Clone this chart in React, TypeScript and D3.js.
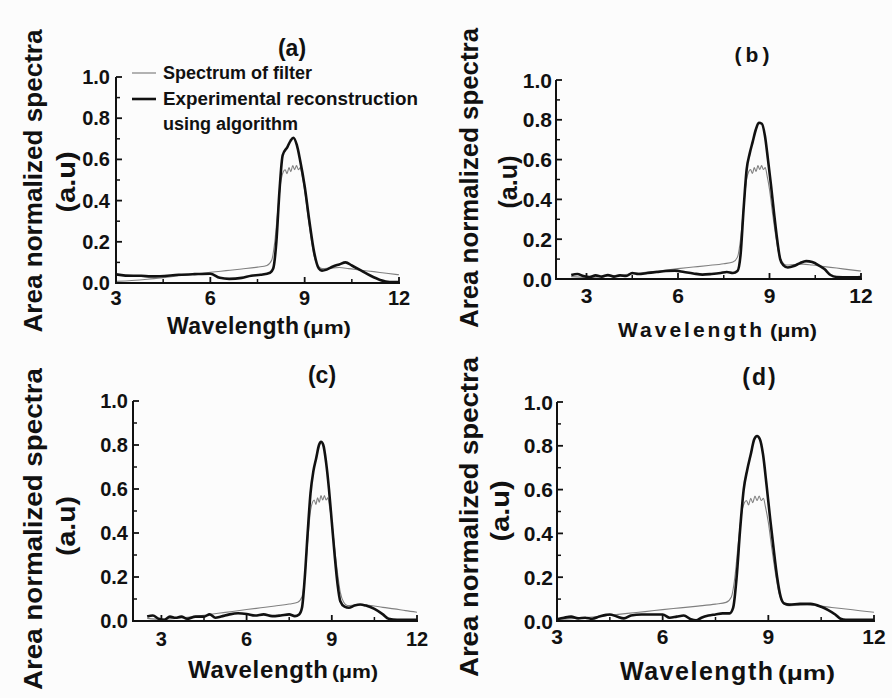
import React from "react";
import * as d3 from "d3";

// ---------- DATA ----------
const X_TICKS = [3, 6, 9, 12];
const X_MINOR = [4.5, 7.5, 10.5];
const Y_TICKS = [0, 0.2, 0.4, 0.6, 0.8, 1.0];
const Y_MINOR = [0.1, 0.3, 0.5, 0.7, 0.9];
const PANEL_LABELS = ["(a)", "(b)", "(c)", "(d)"];
const LEGEND_LABELS = ["Spectrum of filter", "Experimental reconstruction", "using algorithm"];
const Y_TITLE = "Area normalized spectra";
const Y_UNIT = "(a.u)";
const X_TITLE = "Wavelength";
const X_UNIT = "(\u03bcm)";

// Spectrum of filter (shared by all panels)
const FILTER_X = [2.5, 3.0, 3.5, 4.0, 4.5, 5.0, 5.5, 6.0, 6.5, 7.0, 7.5, 7.8, 7.95, 8.05, 8.15, 8.25, 8.32, 8.38, 8.44, 8.5, 8.56, 8.62, 8.68, 8.74, 8.8, 8.86, 8.92, 9.0, 9.1, 9.2, 9.3, 9.42, 9.55, 9.8, 10.1, 10.4, 10.8, 11.2, 11.6, 12.0];
const FILTER_Y = [0.012, 0.008, 0.012, 0.018, 0.026, 0.035, 0.043, 0.052, 0.06, 0.068, 0.077, 0.085, 0.11, 0.2, 0.36, 0.5, 0.54, 0.55, 0.53, 0.56, 0.54, 0.57, 0.55, 0.57, 0.55, 0.56, 0.52, 0.45, 0.33, 0.22, 0.13, 0.085, 0.07, 0.072, 0.075, 0.07, 0.062, 0.055, 0.047, 0.04];

// Experimental reconstructions
const RECON_A_X = [3.0, 3.3, 3.8, 4.1, 4.4, 5.0, 5.5, 6.0, 6.3, 6.6, 7.0, 7.3, 7.6, 7.9, 8.0, 8.1, 8.2, 8.3, 8.45, 8.55, 8.64, 8.75, 8.85, 9.0, 9.15, 9.3, 9.45, 9.55, 9.7, 9.9, 10.1, 10.3, 10.5, 10.8, 11.1, 11.4, 11.7, 12.0];
const RECON_A_Y = [0.042, 0.036, 0.035, 0.032, 0.033, 0.04, 0.043, 0.045, 0.025, 0.02, 0.025, 0.035, 0.04, 0.05, 0.07, 0.2, 0.45, 0.62, 0.66, 0.69, 0.705, 0.67, 0.6, 0.47, 0.3, 0.15, 0.07, 0.06, 0.065, 0.08, 0.09, 0.1, 0.085, 0.06, 0.035, 0.015, 0.005, 0.005];

const RECON_B_X = [2.5, 2.7, 2.9, 3.1, 3.3, 3.5, 3.7, 3.9, 4.1, 4.3, 4.5, 4.7, 5.0, 5.3, 5.6, 5.9, 6.2, 6.5, 6.8, 7.1, 7.4, 7.6, 7.8, 7.95, 8.05, 8.15, 8.25, 8.35, 8.45, 8.55, 8.65, 8.75, 8.85, 8.95, 9.05, 9.15, 9.25, 9.35, 9.45, 9.6, 9.8, 10.0, 10.2, 10.4, 10.6, 10.8, 11.0, 11.2, 11.6, 12.0];
const RECON_B_Y = [0.02, 0.025, 0.015, 0.01, 0.018, 0.012, 0.02, 0.012, 0.018, 0.015, 0.03, 0.025, 0.03, 0.035, 0.04, 0.042, 0.035, 0.028, 0.022, 0.025, 0.03, 0.035, 0.03, 0.04, 0.12, 0.35, 0.55, 0.63, 0.69, 0.75, 0.785, 0.78, 0.72, 0.6, 0.47, 0.33, 0.2, 0.1, 0.07, 0.058, 0.065, 0.08, 0.09, 0.085, 0.07, 0.05, 0.02, 0.01, 0.008, 0.01];

const RECON_C_X = [2.5, 2.7, 2.9, 3.1, 3.3, 3.5, 3.7, 3.9, 4.2, 4.5, 4.7, 4.9, 5.1, 5.4, 5.7, 6.0, 6.3, 6.6, 6.9, 7.2, 7.5, 7.7, 7.85, 7.95, 8.05, 8.15, 8.25, 8.35, 8.45, 8.55, 8.62, 8.7, 8.8, 8.9, 9.0, 9.1, 9.2, 9.3, 9.45, 9.6, 9.8, 10.0, 10.2, 10.5, 10.8, 11.0, 11.3, 12.0];
const RECON_C_Y = [0.02, 0.025, 0.01, 0.005, 0.02, 0.015, 0.02, 0.01, 0.02, 0.02, 0.03, 0.015, 0.02, 0.03, 0.035, 0.032, 0.025, 0.03, 0.022, 0.025, 0.03, 0.022, 0.03, 0.06, 0.2, 0.4, 0.58, 0.68, 0.74, 0.8, 0.815, 0.8, 0.72, 0.6, 0.45, 0.3, 0.17, 0.09, 0.065, 0.06, 0.07, 0.075, 0.07, 0.055, 0.03, 0.01, 0.005, 0.005];

const RECON_D_X = [3.0, 3.2, 3.4, 3.6, 3.8, 4.0, 4.2, 4.4, 4.5, 4.7, 4.9, 5.1, 5.4, 5.7, 6.0, 6.2, 6.4, 6.6, 6.8, 6.95, 7.1, 7.3, 7.5, 7.7, 7.9, 8.0, 8.1, 8.2, 8.3, 8.4, 8.5, 8.6, 8.68, 8.76, 8.85, 8.95, 9.05, 9.15, 9.25, 9.35, 9.45, 9.6, 9.9, 10.2, 10.5, 10.7, 10.9, 11.05, 11.2, 12.0];
const RECON_D_Y = [0.008, 0.015, 0.02, 0.012, 0.015, 0.01, 0.02, 0.028, 0.03, 0.02, 0.012, 0.025, 0.03, 0.03, 0.03, 0.015, 0.02, 0.025, 0.008, 0.003, 0.015, 0.025, 0.03, 0.035, 0.035, 0.06, 0.2, 0.42, 0.6, 0.69, 0.76, 0.83, 0.845, 0.83, 0.76, 0.62, 0.47, 0.33, 0.2, 0.11, 0.08, 0.075, 0.078, 0.078, 0.065, 0.05, 0.03, 0.01, 0.005, 0.005];

const RECONS = [
  [RECON_A_X, RECON_A_Y],
  [RECON_B_X, RECON_B_Y],
  [RECON_C_X, RECON_C_Y],
  [RECON_D_X, RECON_D_Y],
];

// ---------- LAYOUT ----------
type Layout = {
  left: number; right: number; bottom: number; top: number;
  xMin: number; xMax: number;
  title: [number, number, number, number]; // x, y, size, spacing
  yTitle: [number, number, number]; // cx, cy, length
  yUnit: [number, number, number];
  xTitle: [number, number, number, number]; // x, baseline, width, size
  xUnit: [number, number, number]; // x, width, size
  tickSize: number; tickGapY: number; tickOffX: number;
};

const LAYOUTS: Layout[] = [
  { left: 116, right: 399, bottom: 283, top: 77, xMin: 3, xMax: 12,
    title: [292, 48, 23, 0], yTitle: [33, 181, 303], yUnit: [66, 182, 61],
    xTitle: [167, 334, 132, 23], xUnit: [303, 48, 19],
    tickSize: 20, tickGapY: 6, tickOffX: 15 },
  { left: 556, right: 861, bottom: 279, top: 80, xMin: 2, xMax: 12,
    title: [754, 54, 21, 4], yTitle: [469, 178, 300], yUnit: [508, 182, 53],
    xTitle: [618, 337, 144, 21], xUnit: [770, 47, 18],
    tickSize: 21, tickGapY: 4, tickOffX: 16 },
  { left: 133, right: 417, bottom: 621, top: 401, xMin: 2, xMax: 12,
    title: [322, 375, 23, 0], yTitle: [33, 529, 322], yUnit: [66, 526, 60],
    xTitle: [188, 678, 140, 24], xUnit: [332, 46, 19],
    tickSize: 20, tickGapY: 5, tickOffX: 18 },
  { left: 557, right: 874, bottom: 621, top: 402, xMin: 3, xMax: 12,
    title: [760, 377, 23, 2], yTitle: [469, 517, 320], yUnit: [500, 511, 61],
    xTitle: [620, 680, 153, 25], xUnit: [778, 57, 20],
    tickSize: 21, tickGapY: 4, tickOffX: 15 },
];

const FONT = "'Liberation Sans', Arial, Helvetica, sans-serif";
const INK = "#111";

function Panel({ idx }: { idx: number }) {
  const L = LAYOUTS[idx];
  const x = d3.scaleLinear().domain([L.xMin, L.xMax]).range([L.left, L.right]);
  const y = d3.scaleLinear().domain([0, 1]).range([L.bottom, L.top]);
  const line = d3
    .line<[number, number]>()
    .x((d) => x(d[0]))
    .y((d) => y(d[1]))
    .curve(d3.curveMonotoneX);
  const filterPts = FILTER_X.map((v, i) => [v, FILTER_Y[i]] as [number, number]).filter(
    (d) => d[0] >= L.xMin
  );
  const [rx, ry] = RECONS[idx];
  const reconPts = rx.map((v, i) => [v, ry[i]] as [number, number]);
  const clipId = `clip-${idx}`;

  return (
    <g fontFamily={FONT} fill={INK}>
      <defs>
        <clipPath id={clipId}>
          <rect x={L.left} y={L.top - 20} width={L.right - L.left} height={L.bottom - L.top + 20} />
        </clipPath>
      </defs>
      {/* data */}
      <g clipPath={`url(#${clipId})`}>
        <path d={line(filterPts) || ""} fill="none" stroke="#808080" strokeWidth={1.1} />
        <path d={line(reconPts) || ""} fill="none" stroke={INK} strokeWidth={2.6} strokeLinejoin="round" />
      </g>
      {/* axes */}
      <line x1={L.left} x2={L.left} y1={y(1)} y2={y(0) + 1} stroke={INK} strokeWidth={2} />
      <line x1={L.left - 1} x2={L.right + 1} y1={y(0)} y2={y(0)} stroke={INK} strokeWidth={2.2} />
      {Y_TICKS.map((t) => (
        <g key={`yt${t}`}>
          <line x1={L.left} x2={L.left + 6} y1={y(t)} y2={y(t)} stroke={INK} strokeWidth={1.8} />
          <text
            x={L.left - L.tickGapY}
            y={y(t)}
            textAnchor="end"
            dominantBaseline="central"
            fontSize={L.tickSize}
            fontWeight="bold"
          >
            {t.toFixed(1)}
          </text>
        </g>
      ))}
      {Y_MINOR.map((t) => (
        <line key={`ym${t}`} x1={L.left} x2={L.left + 4} y1={y(t)} y2={y(t)} stroke={INK} strokeWidth={1.5} />
      ))}
      {X_TICKS.map((t) => (
        <g key={`xt${t}`}>
          <line x1={x(t)} x2={x(t)} y1={y(0)} y2={y(0) - 6} stroke={INK} strokeWidth={1.8} />
          <text
            x={x(t)}
            y={y(0) + L.tickOffX}
            textAnchor="middle"
            dominantBaseline="central"
            fontSize={L.tickSize}
            fontWeight="bold"
          >
            {t}
          </text>
        </g>
      ))}
      {X_MINOR.map((t) => (
        <line key={`xm${t}`} x1={x(t)} x2={x(t)} y1={y(0)} y2={y(0) - 4} stroke={INK} strokeWidth={1.5} />
      ))}
      {/* titles */}
      <text
        x={L.title[0]}
        y={L.title[1]}
        textAnchor="middle"
        dominantBaseline="central"
        fontSize={L.title[2]}
        fontWeight="bold"
        letterSpacing={L.title[3]}
      >
        {PANEL_LABELS[idx]}
      </text>
      <text
        transform={`translate(${L.yTitle[0]},${L.yTitle[1]}) rotate(-90)`}
        textAnchor="middle"
        dominantBaseline="central"
        fontSize={26}
        fontWeight="bold"
        textLength={L.yTitle[2]}
        lengthAdjust="spacingAndGlyphs"
      >
        {Y_TITLE}
      </text>
      <text
        transform={`translate(${L.yUnit[0]},${L.yUnit[1]}) rotate(-90)`}
        textAnchor="middle"
        dominantBaseline="central"
        fontSize={26}
        fontWeight="bold"
        textLength={L.yUnit[2]}
        lengthAdjust="spacingAndGlyphs"
      >
        {Y_UNIT}
      </text>
      <text
        x={L.xTitle[0]}
        y={L.xTitle[1]}
        fontSize={L.xTitle[3]}
        fontWeight="bold"
        textLength={L.xTitle[2]}
        lengthAdjust="spacing"
      >
        {X_TITLE}
      </text>
      <text
        x={L.xUnit[0]}
        y={L.xTitle[1]}
        fontSize={L.xUnit[2]}
        fontWeight="bold"
        textLength={L.xUnit[1]}
        lengthAdjust="spacingAndGlyphs"
      >
        {X_UNIT}
      </text>
    </g>
  );
}

function Legend() {
  const rows = [
    { y: 73, color: "#808080", w: 1.2, text: LEGEND_LABELS[0] },
    { y: 99, color: INK, w: 2.6, text: LEGEND_LABELS[1] },
  ];
  return (
    <g fontFamily={FONT} fill={INK} fontWeight="bold" fontSize={18}>
      {rows.map((r) => (
        <g key={r.text}>
          <line x1={132} x2={156} y1={r.y} y2={r.y} stroke={r.color} strokeWidth={r.w} />
          <text x={163} y={r.y} dominantBaseline="central" textLength={r.text.length > 20 ? 255 : undefined} lengthAdjust="spacingAndGlyphs">
            {r.text}
          </text>
        </g>
      ))}
      <text x={163} y={124} dominantBaseline="central">
        {LEGEND_LABELS[2]}
      </text>
    </g>
  );
}

export default function App() {
  return (
    <svg
      width={892}
      height={698}
      style={{ position: "absolute", left: 0, top: 0, background: "#fcfcfc" }}
    >
      <rect x={0} y={0} width={892} height={698} fill="#fcfcfc" />
      {[0, 1, 2, 3].map((i) => (
        <Panel key={i} idx={i} />
      ))}
      <Legend />
    </svg>
  );
}
